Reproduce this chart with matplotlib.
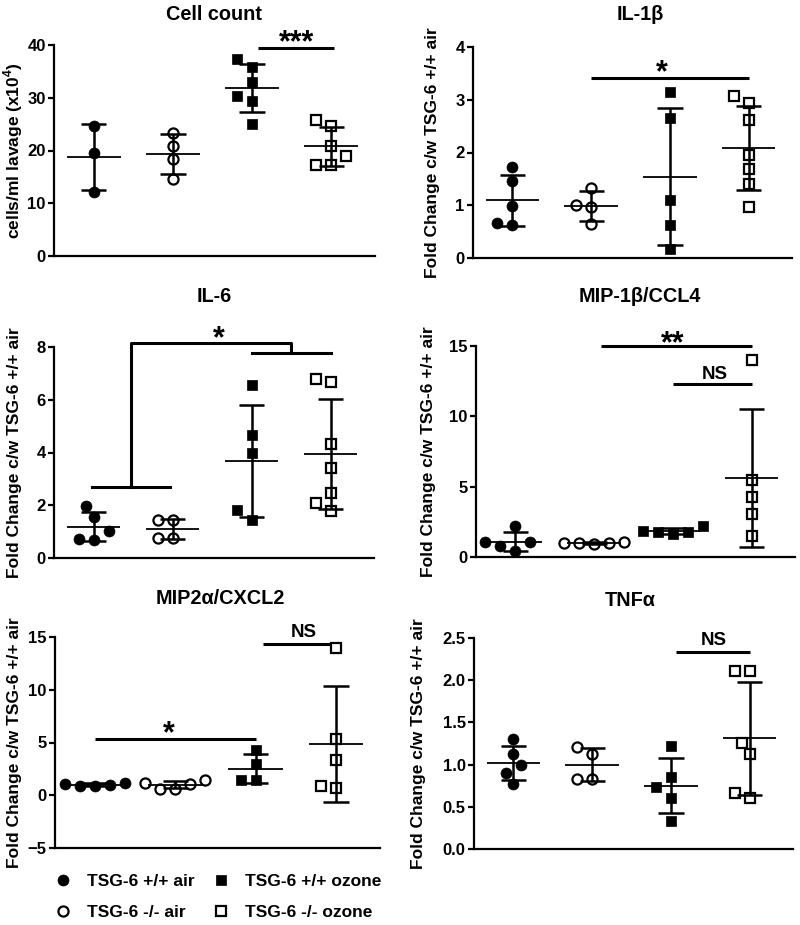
import matplotlib as mpl
mpl.use('Agg')
import matplotlib.pyplot as plt
from matplotlib.lines import Line2D
import numpy as np

plt.rcParams['font.family'] = ['Liberation Sans', 'DejaVu Sans']
plt.rcParams['font.weight'] = 'bold'
plt.rcParams['mathtext.fontset'] = 'custom'
plt.rcParams['mathtext.rm'] = 'Liberation Sans:bold'
plt.rcParams['mathtext.bf'] = 'Liberation Sans:bold'

groups = ['TSG-6 +/+ air', 'TSG-6 -/- air', 'TSG-6 +/+ ozone', 'TSG-6 -/- ozone']

# values, one list per group
cell_wt_air = [24.6, 19.5, 12.2]
cell_ko_air = [23.4, 20.9, 18.3, 14.6]
cell_wt_oz = [37.3, 35.9, 33.0, 30.3, 29.4, 25.0]
cell_ko_oz = [25.8, 24.6, 20.9, 19.0, 17.2, 17.2]

il1b_wt_air = [1.73, 1.46, 0.99, 0.66, 0.63]
il1b_ko_air = [1.33, 1.00, 0.96, 0.65]
il1b_wt_oz = [3.15, 2.66, 1.10, 0.63, 0.17]
il1b_ko_oz = [3.07, 2.93, 2.61, 1.95, 1.68, 1.40, 0.96]

il6_wt_air = [1.96, 1.55, 1.01, 0.70, 0.71]
il6_ko_air = [1.43, 1.43, 0.77, 0.77]
il6_wt_oz = [6.57, 4.65, 3.98, 1.81, 1.43]
il6_ko_oz = [6.79, 6.66, 4.31, 3.41, 2.47, 2.10, 1.78]

mip1b_wt_air = [2.17, 1.06, 1.04, 0.80, 0.40]
mip1b_ko_air = [1.05, 1.02, 0.98, 0.97, 0.95]
mip1b_wt_oz = [2.22, 1.87, 1.80, 1.77, 1.60]
mip1b_ko_oz = [13.99, 5.48, 4.23, 3.05, 1.46]

mip2a_wt_air = [1.20, 1.10, 0.95, 0.85, 0.85]
mip2a_ko_air = [1.42, 1.17, 1.10, 0.63, 0.63]
mip2a_wt_oz = [4.26, 3.00, 1.42, 1.42]
mip2a_ko_oz = [14.0, 5.36, 3.37, 0.85, 0.72]

tnfa_wt_air = [1.30, 1.13, 1.00, 0.90, 0.77]
tnfa_ko_air = [1.21, 1.13, 0.83, 0.83]
tnfa_wt_oz = [1.22, 0.85, 0.73, 0.61, 0.33]
tnfa_ko_oz = [2.11, 2.11, 1.26, 1.13, 0.66, 0.60]

fold_lab = 'Fold Change c/w TSG-6 +/+ air'

W, H = 800, 925
fig = plt.figure(figsize=(W / 100, H / 100), dpi=100)

styles = [dict(marker='o', mfc='black', mec='black', ms=7.9, mew=0.5),
          dict(marker='o', mfc='white', mec='black', ms=7.3, mew=1.6),
          dict(marker='s', mfc='black', mec='black', ms=7.0, mew=0.5),
          dict(marker='s', mfc='white', mec='black', ms=6.7, mew=1.6)]


def box(l, r, t, b):
    return [l / W, 1 - b / H, (r - l) / W, (b - t) / H]


def swarm(ax, vals, step=7.5, mind=13.0):
    # spread overlapping points sideways, like a prism scatter
    p0 = ax.transData.transform((0, 0))
    p1 = ax.transData.transform((1, 1))
    sx, sy = p1[0] - p0[0], p1[1] - p0[1]
    vals = np.asarray(vals, float)
    off = np.zeros(len(vals))
    placed = []
    for i in np.argsort(vals):
        y = vals[i] * sy
        for k in range(30):
            m = (k + 1) // 2
            c = m * step * (-1 if k % 2 else 1)
            if all(np.hypot(c - px, y - py) >= mind for px, py in placed):
                break
        placed.append((c, y))
        off[i] = c / sx
    return off


def panel(rect, data, ylim, yticks, title, title_px, ylab, ylab_x, fmt=None):
    ax = fig.add_axes(box(*rect))
    ax.set_xlim(0.5, 4.55)
    ax.set_ylim(*ylim)
    ax.set_yticks(yticks)
    if fmt:
        ax.set_yticklabels([fmt % v for v in yticks])
    ax.set_xticks([])
    for s in ['top', 'right']:
        ax.spines[s].set_visible(False)
    for s in ['left', 'bottom']:
        ax.spines[s].set_linewidth(1.6)
    ax.tick_params(axis='y', length=4, width=1.6, labelsize=12, pad=2)
    for lab in ax.get_yticklabels():
        lab.set_fontweight('bold')
    for i, vals in enumerate(data):
        x = i + 1
        v = np.asarray(vals, float)
        m, sd = v.mean(), v.std(ddof=1)
        ax.plot(x + swarm(ax, v), v, ls='none', zorder=3, clip_on=False, **styles[i])
        ax.vlines(x, m - sd, m + sd, color='black', lw=1.8, zorder=4)
        ax.hlines([m - sd, m + sd], x - 0.16, x + 0.16, color='black', lw=1.8, zorder=4)
        ax.hlines(m, x - 0.34, x + 0.34, color='black', lw=1.3, zorder=4)
    l, r, t, b = rect
    fig.text(title_px[0] / W, 1 - title_px[1] / H, title, ha='center', va='center',
             fontsize=14.3, fontweight='bold')
    fig.text(ylab_x / W, 1 - (t + b) / 2 / H, ylab, rotation=90, ha='center', va='center',
             fontsize=12.5, fontweight='bold')
    return ax


def sig(ax, x0, x1, y, txt, ty, tx=None, size=13.5):
    ax.plot([x0, x1], [y, y], color='black', lw=2.2, clip_on=False, solid_capstyle='butt')
    if tx is None:
        tx = (x0 + x1) / 2
    ax.text(tx, ty, txt, ha='center', va='center', fontsize=size, fontweight='bold', clip_on=False)


# Cell count
ax1 = panel((54, 375, 45, 256), [cell_wt_air, cell_ko_air, cell_wt_oz, cell_ko_oz],
            (0, 40), [0, 10, 20, 30, 40], 'Cell count', (214, 15),
            r'cells/ml lavage (x10$^{4}$)', 13)
sig(ax1, 3.08, 4.03, 39.5, '***', 40.4, size=22)

# IL-1b
ax2 = panel((473, 792, 47, 258), [il1b_wt_air, il1b_ko_air, il1b_wt_oz, il1b_ko_oz],
            (0, 4), [0, 1, 2, 3, 4], 'IL-1β', (640, 15), fold_lab, 433)
sig(ax2, 2.0, 4.0, 3.42, '*', 3.5, tx=2.9, size=22)

# IL-6 with bracket
ax3 = panel((54, 374, 347, 558), [il6_wt_air, il6_ko_air, il6_wt_oz, il6_ko_oz],
            (0, 8), [0, 2, 4, 6, 8], 'IL-6', (214, 297), fold_lab, 15)
kw = dict(color='black', lw=2.2, clip_on=False)
ax3.plot([0.98, 1.97], [2.69, 2.69], **kw)
ax3.plot([1.47, 1.47, 3.5, 3.5], [2.69, 8.15, 8.15, 7.79], **kw)
ax3.plot([3.0, 4.0], [7.79, 7.79], **kw)
ax3.text(2.58, 8.3, '*', ha='center', va='center', fontsize=22, fontweight='bold')

# MIP-1b/CCL4
ax4 = panel((476, 795, 346, 557), [mip1b_wt_air, mip1b_ko_air, mip1b_wt_oz, mip1b_ko_oz],
            (0, 15), [0, 5, 10, 15], 'MIP-1β/CCL4', (640, 297), fold_lab, 428)
sig(ax4, 2.09, 4.0, 15.0, '**', 15.1, tx=3.0, size=22)
sig(ax4, 3.0, 4.0, 12.28, 'NS', 12.95, tx=3.53)

# MIP2a/CXCL2
ax5 = panel((55, 380, 637, 848), [mip2a_wt_air, mip2a_ko_air, mip2a_wt_oz, mip2a_ko_oz],
            (-5, 15), [-5, 0, 5, 10, 15], 'MIP2α/CXCL2', (220, 598), fold_lab, 15)
sig(ax5, 1.0, 3.0, 5.36, '*', 5.8, tx=1.92, size=22)
sig(ax5, 3.09, 4.0, 14.37, 'NS', 15.4, tx=3.6)

# TNFa
ax6 = panel((474, 793, 638, 849), [tnfa_wt_air, tnfa_ko_air, tnfa_wt_oz, tnfa_ko_oz],
            (0, 2.5), [0, 0.5, 1.0, 1.5, 2.0, 2.5], 'TNFα', (630, 600), fold_lab, 418, fmt='%.1f')
sig(ax6, 3.07, 4.0, 2.33, 'NS', 2.47, tx=3.55)

handles = [Line2D([], [], ls='none', **styles[i]) for i in range(4)]
fig.legend(handles, groups, ncol=2, loc='upper left', bbox_to_anchor=(54 / W, 1 - 874 / H),
           frameon=False, fontsize=12.5, handlelength=1.0, handletextpad=0.9,
           columnspacing=1.0, labelspacing=0.9, borderpad=0, borderaxespad=0)

fig.savefig('out.png', dpi=100, facecolor='white')
